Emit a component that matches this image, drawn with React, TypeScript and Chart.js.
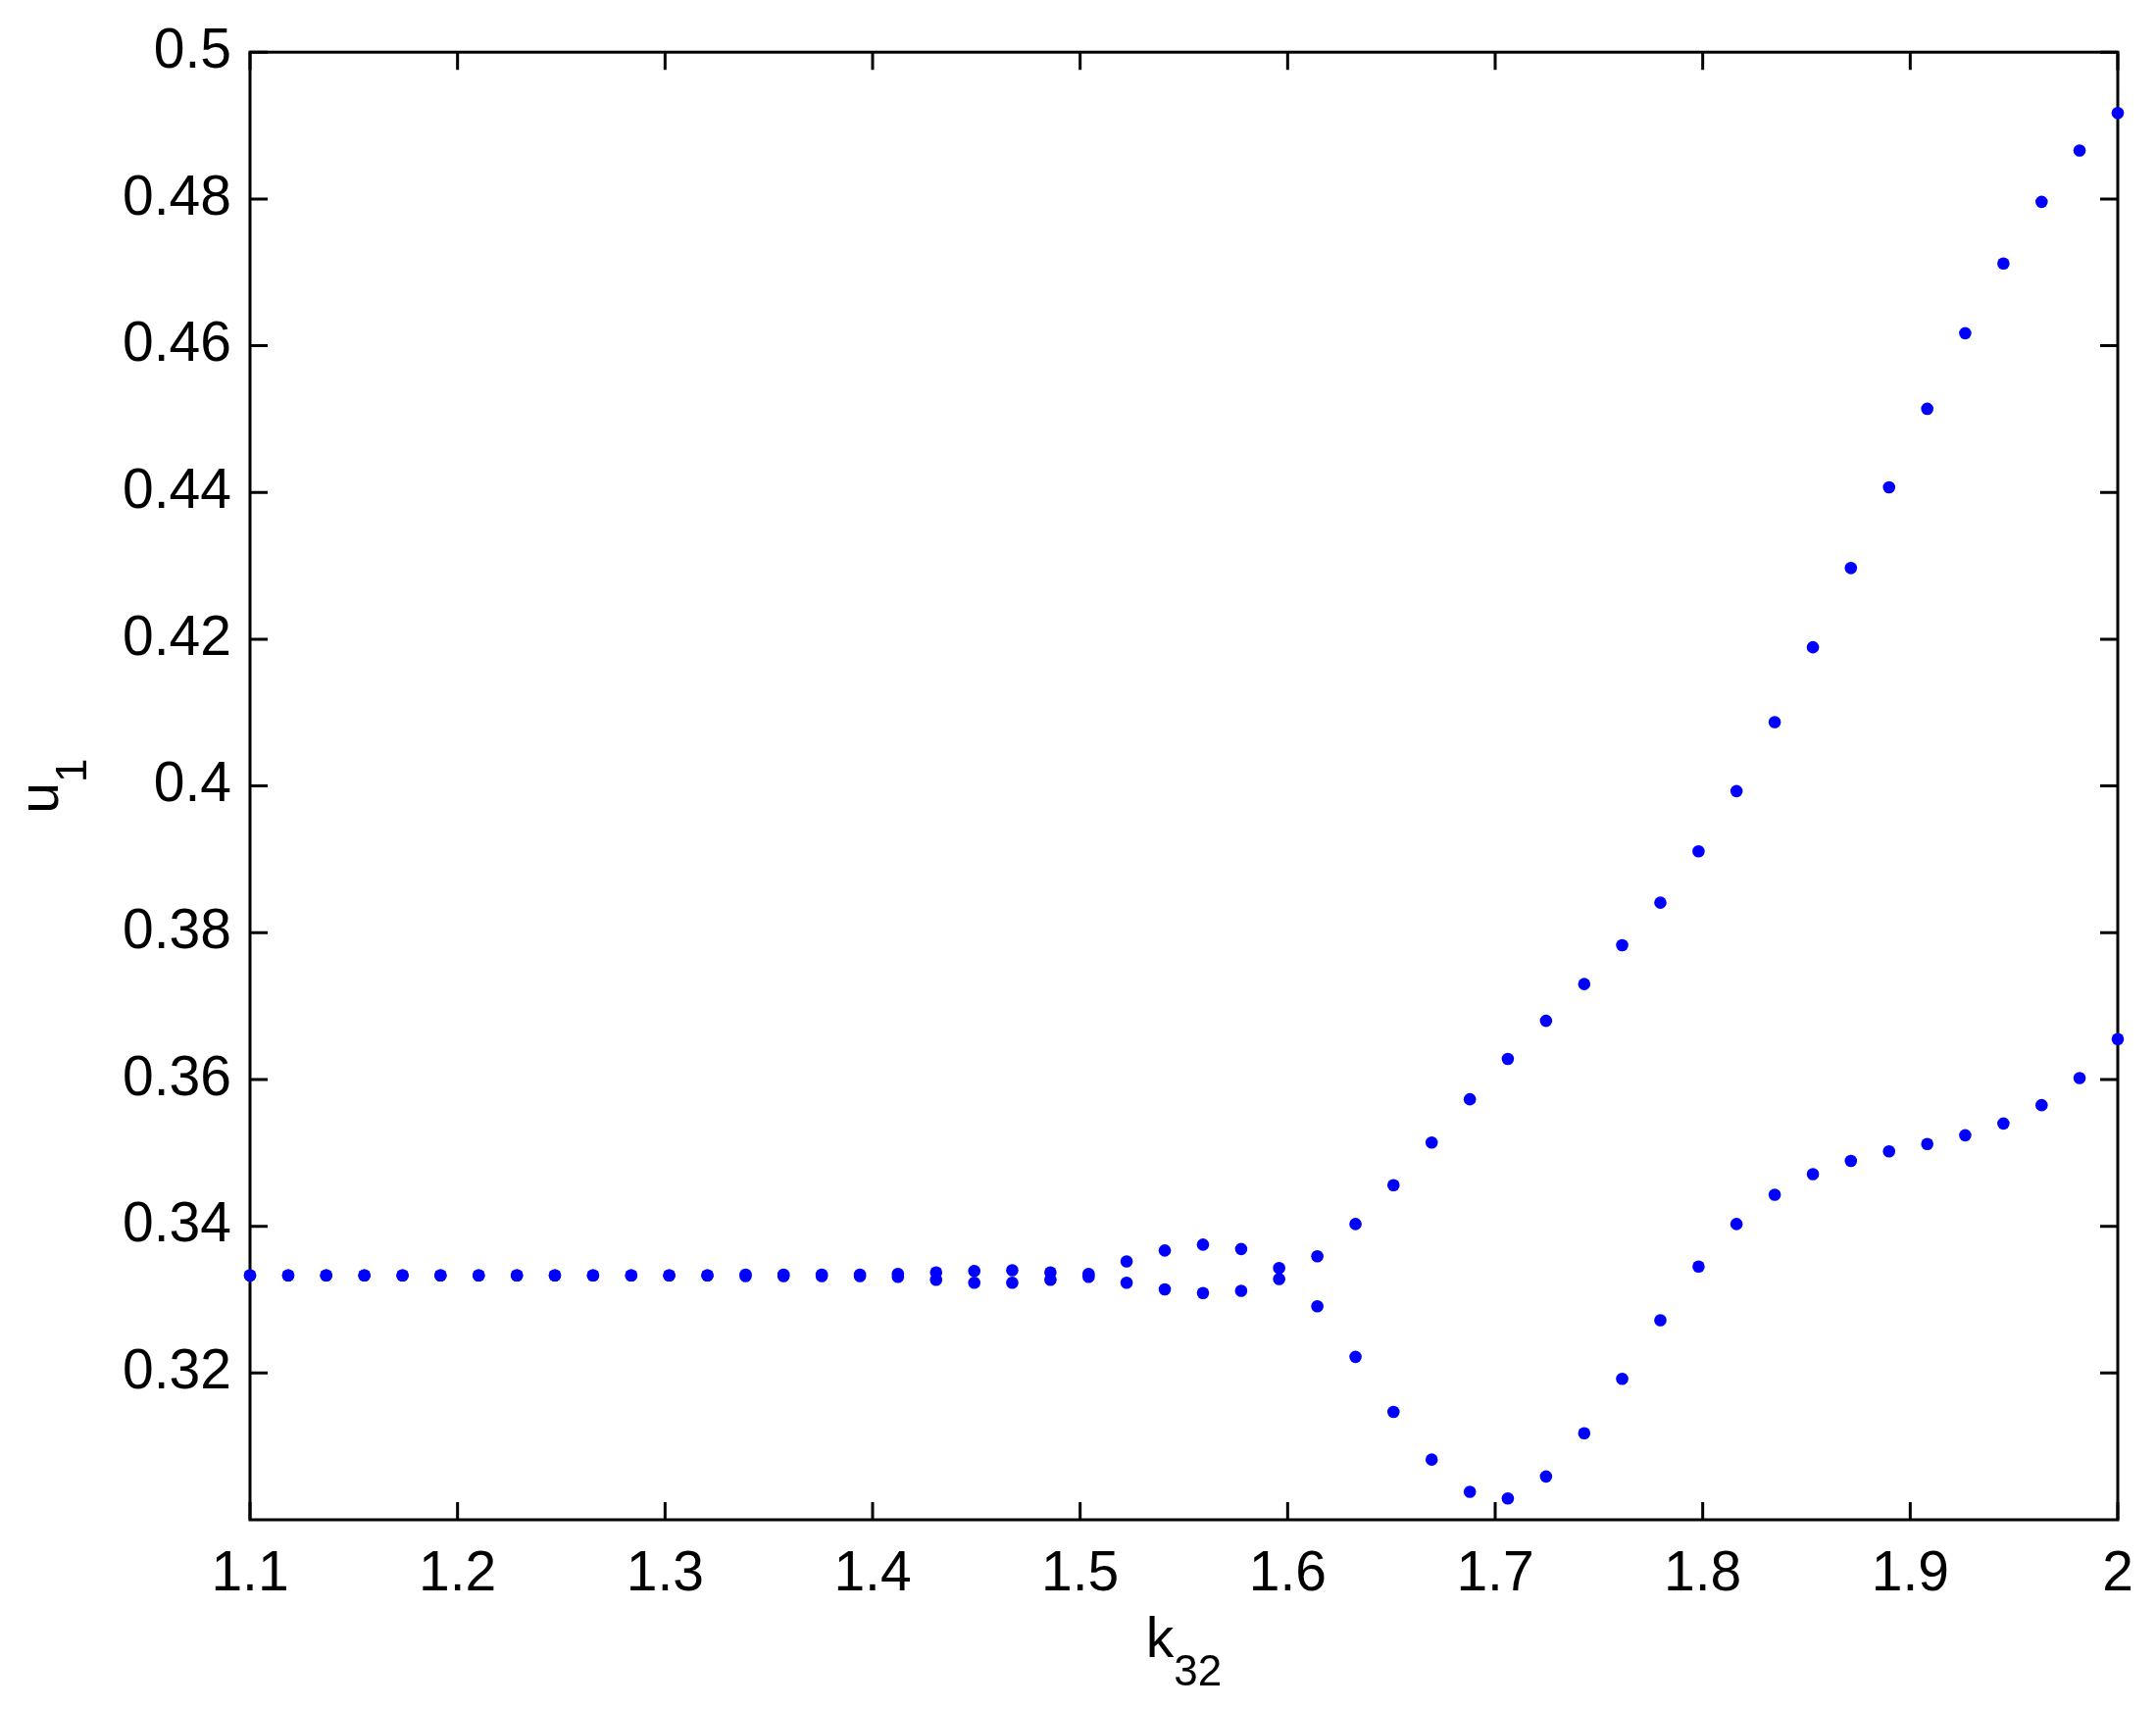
import React, { useEffect, useRef } from 'react';
import { Chart, registerables } from 'chart.js';

Chart.register(...registerables);

const FONT = '"Liberation Sans", Arial, Helvetica, sans-serif';

// k32 parameter values (x)
const k32 = [
  1.1, 1.1184, 1.1367, 1.1551, 1.1735, 1.1918, 1.2102, 1.2286, 1.2469, 1.2653,
  1.2837, 1.302, 1.3204, 1.3388, 1.3571, 1.3755, 1.3939, 1.4122, 1.4306, 1.449,
  1.4673, 1.4857, 1.5041, 1.5224, 1.5408, 1.5592, 1.5776, 1.5959, 1.6143, 1.6327,
  1.651, 1.6694, 1.6878, 1.7061, 1.7245, 1.7429, 1.7612, 1.7796, 1.798, 1.8163,
  1.8347, 1.8531, 1.8714, 1.8898, 1.9082, 1.9265, 1.9449, 1.9633, 1.9816, 2.0,
];

// u1 values, first branch
const u1BranchA = [
  0.3333, 0.3333, 0.3333, 0.3333, 0.3333, 0.3333, 0.3333, 0.3333, 0.3333, 0.3333,
  0.3333, 0.3333, 0.3333, 0.3334, 0.3334, 0.3334, 0.3334, 0.3335, 0.3337, 0.3339,
  0.334, 0.3337, 0.3335, 0.3352, 0.3367, 0.3375, 0.3369, 0.3343, 0.3359, 0.3403,
  0.3456, 0.3514, 0.3573, 0.3628, 0.368, 0.373, 0.3783, 0.3841, 0.3911, 0.3993,
  0.4087, 0.4189, 0.4297, 0.4407, 0.4514, 0.4617, 0.4712, 0.4796, 0.4866, 0.4917,
];

// u1 values, second branch
const u1BranchB = [
  0.3333, 0.3333, 0.3333, 0.3333, 0.3333, 0.3333, 0.3333, 0.3333, 0.3333, 0.3333,
  0.3333, 0.3333, 0.3333, 0.3332, 0.3332, 0.3332, 0.3332, 0.3331, 0.3327, 0.3323,
  0.3323, 0.3327, 0.3331, 0.3323, 0.3314, 0.3309, 0.3312, 0.3328, 0.3291, 0.3222,
  0.3147, 0.3082, 0.3038, 0.3029, 0.3059, 0.3118, 0.3192, 0.3272, 0.3345, 0.3403,
  0.3443, 0.3471, 0.3489, 0.3502, 0.3512, 0.3524, 0.354, 0.3565, 0.3602, 0.3655,
];

const X_TICKS = [1.1, 1.2, 1.3, 1.4, 1.5, 1.6, 1.7, 1.8, 1.9, 2];
const Y_TICKS = [0.32, 0.34, 0.36, 0.38, 0.4, 0.42, 0.44, 0.46, 0.48, 0.5];

const X_LABEL = 'k';
const X_LABEL_SUB = '32';
const Y_LABEL = 'u';
const Y_LABEL_SUB = '1';

const W = 2199;
const H = 1743;

export default function App() {
  const ref = useRef<HTMLCanvasElement>(null);

  useEffect(() => {
    const canvas = ref.current;
    if (!canvas) return;

    const framePlugin = {
      id: 'matlabFrame',
      beforeDatasetsDraw(chart: any) {
        const { ctx, chartArea: a, scales } = chart;
        ctx.save();
        ctx.strokeStyle = '#000';
        ctx.lineWidth = 3;
        ctx.strokeRect(a.left, a.top, a.right - a.left, a.bottom - a.top);
        const TL = 18;
        ctx.beginPath();
        for (const v of X_TICKS) {
          const px = scales.x.getPixelForValue(v);
          ctx.moveTo(px, a.bottom);
          ctx.lineTo(px, a.bottom - TL);
          ctx.moveTo(px, a.top);
          ctx.lineTo(px, a.top + TL);
        }
        for (const v of Y_TICKS) {
          const py = scales.y.getPixelForValue(v);
          ctx.moveTo(a.left, py);
          ctx.lineTo(a.left + TL, py);
          ctx.moveTo(a.right, py);
          ctx.lineTo(a.right - TL, py);
        }
        ctx.stroke();
        ctx.restore();
      },
      afterDraw(chart: any) {
        const { ctx, chartArea: a } = chart;
        ctx.save();
        ctx.fillStyle = '#000';
        ctx.textBaseline = 'alphabetic';
        ctx.textAlign = 'left';
        // x label
        ctx.font = `57px ${FONT}`;
        const kw = ctx.measureText(X_LABEL).width;
        ctx.font = `44px ${FONT}`;
        const sw = ctx.measureText(X_LABEL_SUB).width;
        const cx = (a.left + a.right) / 2;
        const x0 = cx - (kw + sw) / 2;
        const by = a.bottom + 140;
        ctx.font = `57px ${FONT}`;
        ctx.fillText(X_LABEL, x0, by);
        ctx.font = `44px ${FONT}`;
        ctx.fillText(X_LABEL_SUB, x0 + kw, by + 29);
        // y label
        ctx.font = `57px ${FONT}`;
        const uw = ctx.measureText(Y_LABEL).width;
        ctx.font = `44px ${FONT}`;
        const s1w = ctx.measureText(Y_LABEL_SUB).width;
        const cy = (a.top + a.bottom) / 2;
        ctx.translate(a.left - 196, cy + (uw + s1w) / 2);
        ctx.rotate(-Math.PI / 2);
        ctx.font = `57px ${FONT}`;
        ctx.fillText(Y_LABEL, 0, 0);
        ctx.font = `44px ${FONT}`;
        ctx.fillText(Y_LABEL_SUB, uw, 29);
        ctx.restore();
      },
    };

    const mkData = (ys: number[]) => k32.map((x, i) => ({ x, y: ys[i] }));

    const chart = new Chart(canvas, {
      type: 'scatter',
      data: {
        datasets: [
          {
            data: mkData(u1BranchA),
            backgroundColor: '#0000ff',
            borderColor: '#0000ff',
            pointRadius: 6.3,
            pointBorderWidth: 0,
            pointHoverRadius: 6.3,
            clip: false as any,
          },
          {
            data: mkData(u1BranchB),
            backgroundColor: '#0000ff',
            borderColor: '#0000ff',
            pointRadius: 6.3,
            pointBorderWidth: 0,
            pointHoverRadius: 6.3,
            clip: false as any,
          },
        ],
      },
      options: {
        animation: false,
        responsive: false,
        devicePixelRatio: 1,
        events: [],
        layout: { padding: { top: 48, right: 39, left: 0, bottom: 0 } },
        plugins: {
          legend: { display: false },
          tooltip: { enabled: false },
          title: { display: false },
        },
        scales: {
          x: {
            type: 'linear',
            min: 1.1,
            max: 2,
            afterBuildTicks: (scale: any) => {
              scale.ticks = X_TICKS.map((v) => ({ value: v }));
            },
            afterFit: (scale: any) => {
              scale.height = 193;
            },
            grid: { display: false, drawTicks: false },
            border: { display: false },
            ticks: {
              color: '#000',
              font: { family: FONT, size: 57 },
              padding: 22,
              maxRotation: 0,
              autoSkip: false,
              callback: (v: any) => String(v),
            },
          },
          y: {
            type: 'linear',
            min: 0.3,
            max: 0.5,
            afterBuildTicks: (scale: any) => {
              scale.ticks = Y_TICKS.map((v) => ({ value: v }));
            },
            afterFit: (scale: any) => {
              scale.width = 255;
            },
            grid: { display: false, drawTicks: false },
            border: { display: false },
            ticks: {
              color: '#000',
              font: { family: FONT, size: 57 },
              padding: 19,
              autoSkip: false,
              callback: (v: any) => String(v),
            },
          },
        },
      },
      plugins: [framePlugin],
    });

    return () => chart.destroy();
  }, []);

  return (
    <div
      style={{
        position: 'fixed',
        left: 0,
        top: 0,
        width: W,
        height: H,
        background: '#fff',
      }}
    >
      <canvas ref={ref} width={W} height={H} style={{ display: 'block', width: W, height: H }} />
    </div>
  );
}
